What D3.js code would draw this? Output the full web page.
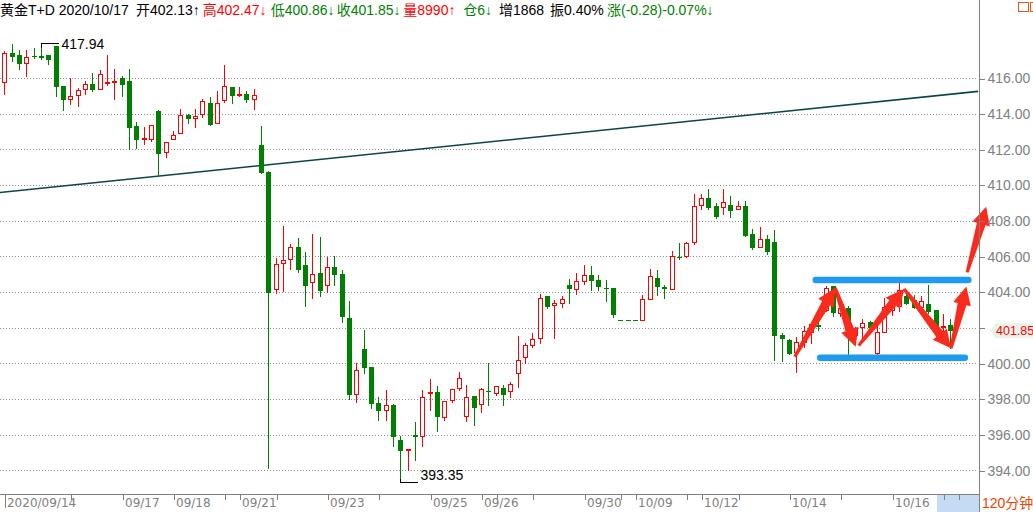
<!DOCTYPE html>
<html><head><meta charset="utf-8">
<script src="https://cdn.jsdelivr.net/npm/d3@7/dist/d3.min.js"></script>
<style>
html,body{margin:0;padding:0;background:#fff;}
svg{display:block;font-family:"Liberation Sans","Noto Sans CJK SC",sans-serif;}
</style></head>
<body><svg id="c" width="1033" height="512"></svg>
<script>
// ---- data (120-minute candles, 黄金T+D) ----
const openP = [415.78,417.41,417.31,416.84,417.26,417.22,417.31,417.78,415.57,414.82,
415.04,415.38,415.68,415.38,415.76,415.81,416.00,415.85,413.30,412.61,
412.57,414.16,411.84,412.57,412.91,413.92,413.75,413.97,414.61,413.45,
414.76,415.49,415.08,415.12,414.80,412.25,410.73,404.15,405.61,405.83,
406.50,405.51,404.54,405.05,404.37,405.38,405.01,402.54,398.26,400.80,
399.79,397.78,397.38,397.66,395.70,395.18,395.96,395.93,398.36,398.41,
396.99,397.93,398.62,397.05,398.17,397.74,398.47,398.34,398.63,398.45,
399.45,400.34,401.00,401.40,403.77,403.25,403.41,404.38,404.14,404.59,
404.98,404.66,404.25,404.20,402.41,402.41,402.41,402.45,403.58,404.81,
404.27,404.19,405.96,405.99,406.78,408.86,409.25,408.80,408.75,408.86,
408.63,408.80,407.23,406.55,406.95,406.80,401.59,401.31,400.62,401.22,
401.78,402.14,403.00,404.32,402.82,403.10,401.60,402.03,402.31,400.60,
401.78,403.00,403.23,403.76,403.57,403.15,403.34,403.00,402.03,402.13];
const highP = [417.54,417.93,417.56,417.56,417.69,417.94,417.31,417.78,415.57,416.00,
415.44,415.81,416.26,416.43,417.31,416.51,416.13,416.51,413.56,413.24,
413.36,414.22,412.40,413.04,414.27,413.99,414.27,414.82,414.93,415.25,
416.75,415.49,415.49,415.27,415.38,413.32,410.79,405.89,407.70,406.67,
407.03,406.24,407.25,407.08,405.96,406.00,405.23,403.50,400.00,401.87,
399.79,398.11,398.52,397.72,395.94,395.20,396.71,398.52,399.12,398.75,
397.89,398.56,399.53,398.79,398.17,398.62,400.02,398.75,398.80,398.95,
401.53,401.13,401.68,403.88,403.77,403.54,403.80,404.70,405.05,405.50,
405.44,404.94,404.66,404.20,402.41,402.41,402.41,403.82,405.28,405.22,
404.38,406.29,406.74,406.80,409.49,409.49,409.78,408.97,409.78,409.38,
409.08,409.08,407.51,407.64,407.17,407.47,401.69,401.37,401.48,402.07,
402.26,402.44,404.32,404.36,403.19,403.19,402.03,402.48,402.35,402.25,
403.66,403.76,404.51,404.00,403.85,403.76,404.41,403.00,402.78,402.47];
const lowP = [415.10,416.94,416.51,416.09,417.13,417.09,416.79,415.01,414.18,414.56,
414.41,415.10,415.25,415.38,415.63,414.82,415.01,412.04,412.06,412.29,
412.44,410.51,411.56,412.57,412.91,413.47,413.23,413.84,413.34,413.45,
414.67,414.59,414.97,414.63,414.27,410.69,394.15,403.96,404.07,405.31,
405.14,403.21,403.64,403.79,404.02,404.41,402.34,397.98,397.81,399.44,
397.51,396.80,396.84,395.35,393.35,394.04,394.56,395.35,397.36,396.19,
396.80,397.85,398.52,396.75,396.52,397.25,397.66,398.22,397.68,398.09,
398.65,400.01,400.94,401.16,403.12,401.44,403.17,403.36,403.86,404.46,
404.12,404.12,403.51,402.61,402.41,402.41,402.41,402.45,403.58,403.84,
403.67,404.19,405.86,405.94,406.67,408.63,408.67,408.13,408.39,408.22,
408.63,407.15,406.42,406.55,406.14,400.17,400.11,400.51,399.53,400.94,
401.13,401.84,402.91,402.63,402.63,400.51,401.31,401.41,401.88,400.51,
401.75,402.72,402.91,403.32,403.10,403.10,402.82,401.28,401.50,400.86];
const closeP = [417.41,417.22,416.84,417.18,417.24,417.20,417.07,415.53,414.82,414.99,
415.32,415.68,415.36,416.23,415.78,415.83,415.66,413.28,412.57,412.62,
413.36,411.82,412.40,412.79,413.92,413.73,413.86,414.72,413.43,414.61,
415.55,415.04,415.10,414.80,415.04,410.75,404.02,405.55,405.78,406.50,
405.31,404.41,404.99,404.13,405.38,405.03,402.67,398.26,399.61,399.81,
397.79,397.36,397.66,395.91,395.12,395.20,395.94,398.11,398.39,397.03,
397.89,398.56,399.18,398.11,397.53,398.56,398.45,398.71,398.30,398.84,
400.18,401.01,401.35,403.69,403.23,403.41,403.58,404.25,404.59,404.98,
404.68,404.31,404.20,402.74,402.41,402.41,402.41,403.60,404.87,404.34,
404.25,405.99,405.94,406.72,408.80,409.25,408.78,408.28,409.03,408.61,
408.80,407.21,406.54,406.95,406.31,401.59,401.42,400.60,401.18,401.80,
402.22,402.07,404.23,402.85,403.10,401.88,401.97,402.25,402.03,401.75,
403.14,403.47,404.13,403.38,403.15,403.47,402.91,402.07,402.12,401.85];

const priceTicks = [394,396,398,400,402,404,406,408,410,412,414,416];
const dateTickIdx = [0,9,16,23,30,32,37,44,51,58,65,67,72,79,84,86,93,95,100,107,114,121,128,130];
const dateLabelIdx = [0,16,23,32,44,58,65,79,86,95,107,121];
const dateLabels = ["2020/09/14","09/17","09/18","09/21","09/23","09/25","09/26","09/30","10/09","10/12","10/14","10/16"];

const maxMark = {i:5, v:417.94};
const minMark = {i:54, v:393.35};
const trendLine = [[-0.59,409.58],[132.8,415.25]];
const channelTop = [[110.66,404.67],[131.46,404.67]];
const channelBottom = [[111.26,400.31],[130.98,400.31]];
const arrowsData = [
 [107.8,400.37,113.3,404.24],
 [113.3,404.24,116.1,400.93],
 [116.5,400.99,122.7,404.17],
 [122.7,404.17,129.1,400.84],
 [129.1,400.84,131.2,404.30],
 [131.3,405.10,133.9,408.78]
];
const headerParts = [
 {t:"黄金T+D 2020/10/17", c:"#000", x:0},
 {t:"开402.13↑", c:"#000", x:136},
 {t:"高402.47↓", c:"#ff0000", x:202.7},
 {t:"低400.86↓", c:"#008000", x:270.7},
 {t:"收401.85↓", c:"#008000", x:336.7},
 {t:"量8990↑", c:"#ff0000", x:403.3},
 {t:"仓6↓", c:"#008000", x:463.3},
 {t:"增1868", c:"#000", x:499},
 {t:"振0.40%", c:"#000", x:550},
 {t:"涨(-0.28)-0.07%↓", c:"#008000", x:607}
];
const lastPrice = 401.85;
const periodLabel = "120分钟";

// ---- drawing ----
const RED="#ff0000", GREEN="#008000", GREY="#808080";
const svg = d3.select("#c");
const axisX = 979.5;
const x = d3.scaleLinear().domain([0,129]).range([4.3,950.3]);
const y = d3.scaleLinear().domain([394,416]).range([470.3,78]);

// grid
svg.append("g").selectAll("line").data(priceTicks).join("line")
  .attr("x1",0).attr("x2",978).attr("y1",d=>Math.round(y(d))+0.5).attr("y2",d=>Math.round(y(d))+0.5)
  .attr("stroke","#8c8c8c").attr("stroke-dasharray","1,2").attr("shape-rendering","crispEdges");

// trend line
svg.append("line")
  .attr("x1",x(trendLine[0][0])).attr("y1",y(trendLine[0][1]))
  .attr("x2",x(trendLine[1][0])).attr("y2",y(trendLine[1][1]))
  .attr("stroke","#0b4545").attr("stroke-width",1.6);

// candles
const data = openP.map((o,i)=>({i,o,h:highP[i],l:lowP[i],c:closeP[i]}));
const cg = svg.append("g").attr("shape-rendering","crispEdges");
data.forEach(d=>{
  const cx = Math.round(x(d.i));
  const up = d.c > d.o;
  const col = up?RED:GREEN;
  cg.append("line").attr("x1",cx+0.5).attr("x2",cx+0.5)
    .attr("y1",Math.round(y(d.h))).attr("y2",Math.round(y(d.l))+1)
    .attr("stroke",col).attr("stroke-width",1);
  const top = Math.round(y(Math.max(d.o,d.c)));
  const bot = Math.round(y(Math.min(d.o,d.c)));
  if(up){
    cg.append("rect").attr("x",cx-2+0.5).attr("y",top+0.5)
      .attr("width",4).attr("height",Math.max(1,bot-top))
      .attr("fill","#fff").attr("stroke",RED).attr("stroke-width",1);
  } else {
    cg.append("rect").attr("x",cx-2).attr("y",top)
      .attr("width",5).attr("height",Math.max(1,bot-top+1))
      .attr("fill",GREEN);
  }
});

// max / min markers
const mk = svg.append("g");
{
  const mx = Math.round(x(maxMark.i))+0.5, my = Math.round(y(maxMark.v))+0.5;
  mk.append("path").attr("d",`M${mx},${my+4}V${my}H${mx+17}`).attr("stroke","#000").attr("fill","none").attr("shape-rendering","crispEdges");
  mk.append("text").attr("x",mx+20).attr("y",my+5.5).attr("font-size",14).attr("fill","#000").text(maxMark.v.toFixed(2));
  const nx = Math.round(x(minMark.i))+0.5, ny = Math.round(y(minMark.v))+0.5;
  mk.append("path").attr("d",`M${nx},${ny-4}V${ny}H${nx+17}`).attr("stroke","#000").attr("fill","none").attr("shape-rendering","crispEdges");
  mk.append("text").attr("x",nx+20).attr("y",ny-3).attr("font-size",14).attr("fill","#000").text(minMark.v.toFixed(2));
}

// channel lines
[channelTop, channelBottom].forEach(seg=>{
  svg.append("line").attr("x1",x(seg[0][0])).attr("x2",x(seg[1][0]))
    .attr("y1",y(seg[0][1])).attr("y2",y(seg[1][1]))
    .attr("stroke","#1e9bf0").attr("stroke-width",6.5).attr("stroke-linecap","round");
});

// arrows
function arrowPoly(x1,y1,x2,y2){
  const dx=x2-x1, dy=y2-y1, L=Math.hypot(dx,dy);
  const ux=dx/L, uy=dy/L, nx=-uy, ny=ux;
  const hl=18, hw=9, w0=1.5, w1=4.5;
  const bx=x2-ux*hl, by=y2-uy*hl;
  const nbx=x2-ux*(hl-3), nby=y2-uy*(hl-3);
  const p=[[x1+nx*w0,y1+ny*w0],[bx+nx*w1,by+ny*w1],[nbx+nx*hw-ux*3,nby+ny*hw-uy*3],[x2,y2],
           [nbx-nx*hw-ux*3,nby-ny*hw-uy*3],[bx-nx*w1,by-ny*w1],[x1-nx*w0,y1-ny*w0]];
  return "M"+p.map(q=>q[0].toFixed(1)+","+q[1].toFixed(1)).join("L")+"Z";
}
svg.append("g").selectAll("path").data(arrowsData).join("path")
  .attr("d",a=>arrowPoly(x(a[0]),y(a[1]),x(a[2]),y(a[3])))
  .attr("fill","#fa2a1c");

// right axis
svg.append("line").attr("x1",axisX).attr("x2",axisX).attr("y1",0).attr("y2",512)
  .attr("stroke",GREY).attr("shape-rendering","crispEdges");
const ya = svg.append("g").attr("transform",`translate(${axisX},0.5)`)
  .call(d3.axisRight(y).tickValues(priceTicks).tickFormat(d3.format(".2f")).tickSize(5).tickPadding(3));
ya.select(".domain").remove();
ya.selectAll("line").attr("stroke",GREY).attr("shape-rendering","crispEdges");
ya.selectAll("text").attr("fill",GREY).attr("font-size",14).attr("font-family","Liberation Sans")
  .attr("display",d=>Math.abs(d-lastPrice)<0.6?"none":null);

// last price tag
{
  const ly = y(lastPrice);
  svg.append("path").attr("d",`M990,${ly+0.5}L996,${ly-7}H1033V${ly+8}H996Z`).attr("fill","#e9f3e9");
  svg.append("text").attr("x",996).attr("y",ly+5).attr("font-size",12.5).attr("fill",RED).text(lastPrice.toFixed(2));
}

// bottom axis
svg.append("rect").attr("x",937).attr("y",495).attr("width",42).attr("height",17).attr("fill","#c5dbf3");
svg.append("line").attr("x1",0).attr("x2",axisX).attr("y1",494.5).attr("y2",494.5)
  .attr("stroke",GREY).attr("shape-rendering","crispEdges");
const labelMap = new Map(dateLabelIdx.map((k,j)=>[k,dateLabels[j]]));
const xa = svg.append("g").attr("transform","translate(0.5,494.5)")
  .call(d3.axisBottom(x).tickValues(dateTickIdx).tickFormat(i=>labelMap.get(i)||"").tickSize(5).tickPadding(3));
xa.select(".domain").remove();
xa.selectAll("line").attr("stroke",GREY).attr("shape-rendering","crispEdges")
  .attr("transform",d=>`translate(${Math.round(x(d))-x(d)},0)`)
  .attr("y2",d=>d===0?13:5);
xa.selectAll("text").attr("fill",GREY).attr("font-size",12).attr("font-family","DejaVu Sans")
  .attr("text-anchor","start").attr("x",d=>Math.round(x(d))-x(d)+2).attr("dy","0").attr("y",12.2);

svg.append("text").attr("x",982).attr("y",508).attr("font-size",14).attr("fill","#ee4400").text(periodLabel);

// header
svg.append("g").selectAll("text").data(headerParts).join("text")
  .attr("x",d=>d.x).attr("y",15).attr("font-size",14).attr("fill",d=>d.c).text(d=>d.t);

// top-right icons
svg.append("rect").attr("x",1018.5).attr("y",2.5).attr("width",10).attr("height",9).attr("fill","none").attr("stroke","#e8561a");
svg.append("rect").attr("x",1030.5).attr("y",2.5).attr("width",10).attr("height",9).attr("fill","none").attr("stroke","#e8561a");
</script></body></html>
